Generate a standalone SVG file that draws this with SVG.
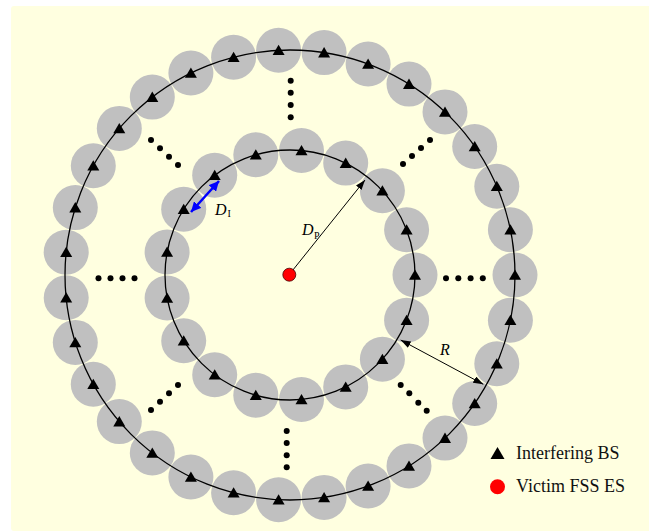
<svg xmlns="http://www.w3.org/2000/svg" xmlns:xlink="http://www.w3.org/1999/xlink" width="649" height="532" viewBox="0 0 649 532">
<style>
.bg{fill:#ffffe0}
.bs circle{fill:#c0c0c0}
.ring{fill:none;stroke:#000;stroke-width:1.3}
.dot{fill:#000}
.lbl{font-family:"Liberation Serif","Times New Roman",serif;font-style:italic;font-size:16px;fill:#000}
.sub{font-family:"Liberation Serif","Times New Roman",serif;font-size:10px;fill:#000}
.leg{font-family:"Liberation Serif","Times New Roman",serif;font-size:18px;fill:#111}
.arr{stroke:#000;stroke-width:1;fill:none}
.barr{stroke:#0000ff;stroke-width:2.5;fill:none}
</style>
<defs>
<path id="tri" d="M0,-5.5 L6,4.8 L-6,4.8 Z" fill="#000"/>
<marker id="ah" markerUnits="userSpaceOnUse" markerWidth="10" markerHeight="7" refX="10" refY="3.5" orient="auto-start-reverse"><path d="M0,0 L10,3.5 L0,7 Z" fill="#000"/></marker>
<marker id="bh" markerUnits="userSpaceOnUse" markerWidth="10" markerHeight="10" refX="10" refY="5" orient="auto-start-reverse"><path d="M0,0 L10,5 L0,10 Z" fill="#0000ff"/></marker>
</defs>
<rect class="bg" x="11" y="6" width="645" height="525" rx="3"/>
<g id="outer-ring-nodes">
<g id="o0" class="bs"><circle cx="515" cy="275" r="22.5"/><use href="#tri" x="515" y="275"/></g>
<g id="o1" class="bs"><circle cx="510.4" cy="320.3" r="22.5"/><use href="#tri" x="510.4" y="320.3"/></g>
<g id="o2" class="bs"><circle cx="496.8" cy="363.7" r="22.5"/><use href="#tri" x="496.8" y="363.7"/></g>
<g id="o3" class="bs"><circle cx="474.7" cy="403.5" r="22.5"/><use href="#tri" x="474.7" y="403.5"/></g>
<g id="o4" class="bs"><circle cx="445" cy="438.1" r="22.5"/><use href="#tri" x="445" y="438.1"/></g>
<g id="o5" class="bs"><circle cx="409" cy="465.9" r="22.5"/><use href="#tri" x="409" y="465.9"/></g>
<g id="o6" class="bs"><circle cx="368.1" cy="486" r="22.5"/><use href="#tri" x="368.1" y="486"/></g>
<g id="o7" class="bs"><circle cx="324.1" cy="497.4" r="22.5"/><use href="#tri" x="324.1" y="497.4"/></g>
<g id="o8" class="bs"><circle cx="278.6" cy="499.7" r="22.5"/><use href="#tri" x="278.6" y="499.7"/></g>
<g id="o9" class="bs"><circle cx="233.6" cy="492.8" r="22.5"/><use href="#tri" x="233.6" y="492.8"/></g>
<g id="o10" class="bs"><circle cx="190.9" cy="477" r="22.5"/><use href="#tri" x="190.9" y="477"/></g>
<g id="o11" class="bs"><circle cx="152.3" cy="452.9" r="22.5"/><use href="#tri" x="152.3" y="452.9"/></g>
<g id="o12" class="bs"><circle cx="119.3" cy="421.6" r="22.5"/><use href="#tri" x="119.3" y="421.6"/></g>
<g id="o13" class="bs"><circle cx="93.3" cy="384.2" r="22.5"/><use href="#tri" x="93.3" y="384.2"/></g>
<g id="o14" class="bs"><circle cx="75.3" cy="342.4" r="22.5"/><use href="#tri" x="75.3" y="342.4"/></g>
<g id="o15" class="bs"><circle cx="66.2" cy="297.8" r="22.5"/><use href="#tri" x="66.2" y="297.8"/></g>
<g id="o16" class="bs"><circle cx="66.2" cy="252.2" r="22.5"/><use href="#tri" x="66.2" y="252.2"/></g>
<g id="o17" class="bs"><circle cx="75.3" cy="207.6" r="22.5"/><use href="#tri" x="75.3" y="207.6"/></g>
<g id="o18" class="bs"><circle cx="93.3" cy="165.8" r="22.5"/><use href="#tri" x="93.3" y="165.8"/></g>
<g id="o19" class="bs"><circle cx="119.3" cy="128.4" r="22.5"/><use href="#tri" x="119.3" y="128.4"/></g>
<g id="o20" class="bs"><circle cx="152.3" cy="97.1" r="22.5"/><use href="#tri" x="152.3" y="97.1"/></g>
<g id="o21" class="bs"><circle cx="190.9" cy="73" r="22.5"/><use href="#tri" x="190.9" y="73"/></g>
<g id="o22" class="bs"><circle cx="233.6" cy="57.2" r="22.5"/><use href="#tri" x="233.6" y="57.2"/></g>
<g id="o23" class="bs"><circle cx="278.6" cy="50.3" r="22.5"/><use href="#tri" x="278.6" y="50.3"/></g>
<g id="o24" class="bs"><circle cx="324.1" cy="52.6" r="22.5"/><use href="#tri" x="324.1" y="52.6"/></g>
<g id="o25" class="bs"><circle cx="368.1" cy="64" r="22.5"/><use href="#tri" x="368.1" y="64"/></g>
<g id="o26" class="bs"><circle cx="409" cy="84.1" r="22.5"/><use href="#tri" x="409" y="84.1"/></g>
<g id="o27" class="bs"><circle cx="445" cy="111.9" r="22.5"/><use href="#tri" x="445" y="111.9"/></g>
<g id="o28" class="bs"><circle cx="474.7" cy="146.5" r="22.5"/><use href="#tri" x="474.7" y="146.5"/></g>
<g id="o29" class="bs"><circle cx="496.8" cy="186.3" r="22.5"/><use href="#tri" x="496.8" y="186.3"/></g>
<g id="o30" class="bs"><circle cx="510.4" cy="229.7" r="22.5"/><use href="#tri" x="510.4" y="229.7"/></g>
</g>
<g id="inner-ring-nodes">
<g id="i0" class="bs"><circle cx="415" cy="275" r="22.5"/><use href="#tri" x="415" y="275"/></g>
<g id="i1" class="bs"><circle cx="406.6" cy="320.2" r="22.5"/><use href="#tri" x="406.6" y="320.2"/></g>
<g id="i2" class="bs"><circle cx="382.4" cy="359.2" r="22.5"/><use href="#tri" x="382.4" y="359.2"/></g>
<g id="i3" class="bs"><circle cx="345.7" cy="386.9" r="22.5"/><use href="#tri" x="345.7" y="386.9"/></g>
<g id="i4" class="bs"><circle cx="301.5" cy="399.5" r="22.5"/><use href="#tri" x="301.5" y="399.5"/></g>
<g id="i5" class="bs"><circle cx="255.8" cy="395.2" r="22.5"/><use href="#tri" x="255.8" y="395.2"/></g>
<g id="i6" class="bs"><circle cx="214.7" cy="374.8" r="22.5"/><use href="#tri" x="214.7" y="374.8"/></g>
<g id="i7" class="bs"><circle cx="183.7" cy="340.8" r="22.5"/><use href="#tri" x="183.7" y="340.8"/></g>
<g id="i8" class="bs"><circle cx="167.1" cy="298" r="22.5"/><use href="#tri" x="167.1" y="298"/></g>
<g id="i9" class="bs"><circle cx="167.1" cy="252" r="22.5"/><use href="#tri" x="167.1" y="252"/></g>
<g id="i10" class="bs"><circle cx="183.7" cy="209.2" r="22.5"/><use href="#tri" x="183.7" y="209.2"/></g>
<g id="i11" class="bs"><circle cx="214.7" cy="175.2" r="22.5"/><use href="#tri" x="214.7" y="175.2"/></g>
<g id="i12" class="bs"><circle cx="255.8" cy="154.8" r="22.5"/><use href="#tri" x="255.8" y="154.8"/></g>
<g id="i13" class="bs"><circle cx="301.5" cy="150.5" r="22.5"/><use href="#tri" x="301.5" y="150.5"/></g>
<g id="i14" class="bs"><circle cx="345.7" cy="163.1" r="22.5"/><use href="#tri" x="345.7" y="163.1"/></g>
<g id="i15" class="bs"><circle cx="382.4" cy="190.8" r="22.5"/><use href="#tri" x="382.4" y="190.8"/></g>
<g id="i16" class="bs"><circle cx="406.6" cy="229.8" r="22.5"/><use href="#tri" x="406.6" y="229.8"/></g>
</g>
<g id="rings">
<circle class="ring" cx="290" cy="275" r="225"/>
<circle class="ring" cx="290" cy="275" r="125"/>
</g>
<g id="ellipsis-dots" class="dot">
<circle cx="290.7" cy="80.7" r="3"/><circle cx="290.7" cy="92.7" r="3"/><circle cx="290.7" cy="105" r="3"/><circle cx="290.7" cy="117.3" r="3"/>
<circle cx="286.7" cy="431" r="3"/><circle cx="286.7" cy="443" r="3"/><circle cx="286.7" cy="455.2" r="3"/><circle cx="286.7" cy="467.3" r="3"/>
<circle cx="98.5" cy="278.3" r="3"/><circle cx="110.5" cy="278.3" r="3"/><circle cx="122.5" cy="278.3" r="3"/><circle cx="134.5" cy="278.3" r="3"/>
<circle cx="446" cy="278.3" r="3"/><circle cx="458.3" cy="278.3" r="3"/><circle cx="470.6" cy="278.3" r="3"/><circle cx="482.8" cy="278.3" r="3"/>
<circle cx="151" cy="140" r="3"/><circle cx="160" cy="148.3" r="3"/><circle cx="169" cy="156.7" r="3"/><circle cx="178" cy="165" r="3"/>
<circle cx="400.7" cy="385" r="3"/><circle cx="409.3" cy="393.3" r="3"/><circle cx="418.3" cy="402.7" r="3"/><circle cx="426.7" cy="410.7" r="3"/>
<circle cx="403" cy="164" r="3"/><circle cx="412" cy="156" r="3"/><circle cx="421" cy="148" r="3"/><circle cx="430" cy="140" r="3"/>
<circle cx="178" cy="385" r="3"/><circle cx="169" cy="393.3" r="3"/><circle cx="160" cy="401.7" r="3"/><circle cx="151" cy="410" r="3"/>
</g>
<g id="connectors">
<line class="arr" x1="289.3" y1="274.5" x2="365" y2="180" marker-end="url(#ah)"/>
<line class="arr" x1="400.7" y1="340" x2="483.3" y2="384.3" marker-start="url(#ah)" marker-end="url(#ah)"/>
<line class="barr" x1="219" y1="181" x2="191" y2="212" marker-start="url(#bh)" marker-end="url(#bh)"/>
</g>
<g id="victim">
<circle cx="289.3" cy="274.7" r="6.5" fill="#ff0000" stroke="#400" stroke-width="0.8"/>
</g>
<g id="labels">
<text class="lbl" x="302" y="235">D</text><text class="sub" x="314" y="239">P</text>
<text class="lbl" x="440" y="354.5">R</text>
<text class="lbl" x="215" y="215">D</text><text class="sub" x="227.5" y="217">I</text>
</g>
<g id="legend">
<path d="M497.5,447 L504.5,459 L490.5,459 Z" fill="#000"/>
<text class="leg" x="516" y="458.5">Interfering BS</text>
<circle cx="497.5" cy="486.7" r="7.5" fill="#ff0000"/>
<text class="leg" x="516" y="492">Victim FSS ES</text>
</g>
</svg>
